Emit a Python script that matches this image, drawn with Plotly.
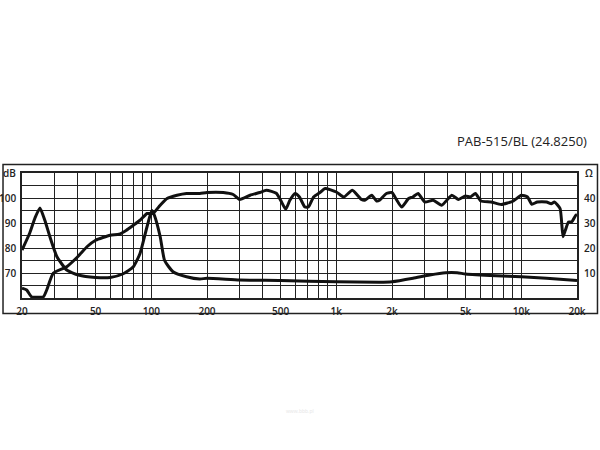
import plotly.graph_objects as go

# Frequency response (dB)
resp_freq = [20, 21.2, 22.5, 26.1, 27.2, 29.5, 34.9, 40, 44.9, 50, 60, 67, 73, 80, 86.9, 94.8, 102,
             111.7, 121.6, 137.7, 155, 183, 200, 245, 277, 300, 342, 386, 419, 474, 500, 533, 561,
             599, 632, 676, 707, 754, 822, 870, 1000, 1098, 1220, 1367, 1425, 1554, 1650, 1712,
             1865, 2000, 2075, 2257, 2457, 2592, 2766, 3011, 3340, 3710, 4212, 4578, 4985, 5300,
             5650, 6050, 6860, 7800, 9060, 10000, 10800, 11400, 12200, 13700, 14500, 15100, 16200,
             16800, 17300, 18000, 18700, 19700, 20000]
resp_db = [63.9, 63.2, 60.5, 60.5, 63.2, 69.9, 72.5, 76.5, 80.5, 83.1, 85.1, 85.5, 87, 89.1, 91.1,
           93.8, 93.8, 97.1, 99.8, 101.1, 101.8, 101.8, 102.2, 102.2, 101.4, 99.4, 101.1, 102.2,
           103.1, 101.9, 99.1, 95.5, 99.1, 101.8, 100.4, 96.4, 96.4, 100.4, 102.4, 103.8, 102.4,
           100.4, 103.1, 99.4, 99.1, 101.1, 98.8, 99.1, 101.8, 102.2, 100.4, 96.4, 99.8, 100.4,
           101.8, 98.4, 99.1, 97.1, 101.1, 99.4, 100.8, 100.4, 101.8, 98.8, 98.4, 97.4, 98.8,
           101.1, 100.4, 97.5, 98.4, 98.4, 97.7, 98.4, 95.8, 84.5, 87.1, 90.4, 90.4, 93.1, 93.4]

# Impedance (Ohm)
imp_freq = [20, 22, 23.5, 25, 26.6, 28.3, 30.9, 34.9, 40.3, 50, 60, 70, 80, 86.9, 94.8, 100.6, 104,
            111.7, 118, 131, 155, 183, 200, 300, 500, 1000, 1700, 2000, 2600, 3200, 3900, 4500,
            5000, 7300, 10000, 13700, 20000]
imp_ohm = [19.2, 25.9, 32, 36, 31, 24.5, 16.5, 11.2, 9.2, 8.2, 8.2, 9.6, 12.5, 17.8, 28.5, 35, 33,
           24.5, 15, 10.5, 8.5, 7.6, 7.9, 7.2, 7.0, 6.5, 6.3, 6.5, 7.9, 9.2, 10.1, 10.1, 9.6, 8.9,
           8.5, 7.9, 7.0]

x_grid = [20, 30, 40, 50, 60, 70, 80, 90, 100, 200, 300, 400, 500, 600, 700, 800, 900, 1000,
          2000, 3000, 4000, 5000, 6000, 7000, 8000, 9000, 10000, 20000]
x_labels = {20: "20", 50: "50", 100: "100", 200: "200", 500: "500", 1000: "1k", 2000: "2k",
            5000: "5k", 10000: "10k", 20000: "20k"}
db_grid = [60, 65, 70, 75, 80, 85, 90, 95, 100, 105, 110]
db_labels = {70: "70", 80: "80", 90: "90", 100: "100"}
ohm_grid = [0, 5, 10, 15, 20, 25, 30, 35, 40, 45, 50]
ohm_labels = {10: "10", 20: "20", 30: "30", 40: "40"}

title = "PAB-515/BL (24.8250)"

tick_font = dict(family="Open Sans", size=10, color="#222", weight=600)

fig = go.Figure()
fig.add_trace(go.Scatter(x=imp_freq, y=imp_ohm, yaxis="y2", mode="lines",
                         line=dict(color="#111", width=3, shape="spline", smoothing=0.5),
                         showlegend=False))
fig.add_trace(go.Scatter(x=resp_freq, y=resp_db, mode="lines",
                         line=dict(color="#111", width=3, shape="spline", smoothing=0.5),
                         showlegend=False))

frame = dict(type="rect", xref="paper", yref="paper",
             x0=-0.0342, x1=1.0369, y0=-0.124, y1=1.068,
             fillcolor="rgba(0,0,0,0)", line=dict(color="#222", width=1.5),
             layer="above")

fig.update_layout(
    width=600, height=450,
    margin=dict(l=22, r=23, t=173, b=152),
    paper_bgcolor="white", plot_bgcolor="white",
    xaxis=dict(type="log", range=[1.30103, 4.30103], tickvals=x_grid,
               ticktext=[x_labels.get(v, "") for v in x_grid],
               showgrid=True, gridcolor="#222", gridwidth=1,
               showline=True, linecolor="#222", linewidth=1.5, mirror=True,
               ticks="", tickfont=tick_font, ticklabelstandoff=3, zeroline=False,
               automargin=False),
    yaxis=dict(range=[60, 110], tickvals=db_grid,
               ticktext=[db_labels.get(v, "") for v in db_grid],
               showgrid=True, gridcolor="#222", gridwidth=1,
               showline=True, linecolor="#222", linewidth=1.5, mirror=True,
               ticks="", tickfont=tick_font, ticklabelstandoff=2, zeroline=False,
               automargin=False),
    yaxis2=dict(range=[0, 50], overlaying="y", side="right", tickvals=ohm_grid,
                ticktext=[ohm_labels.get(v, "") for v in ohm_grid],
                showgrid=False, ticks="", tickfont=tick_font, ticklabelstandoff=6,
                zeroline=False, automargin=False),
    annotations=[
        dict(text=title, xref="paper", yref="paper", x=1.0215, y=1.26,
             xanchor="right", yanchor="middle", showarrow=False,
             font=dict(family="Open Sans", size=13, color="#222")),
        dict(text="dB", xref="paper", yref="paper", x=-0.0225, y=1.0, xanchor="center",
             yanchor="middle", showarrow=False, font=tick_font),
        dict(text="Ω", xref="paper", yref="paper", x=1.0225, y=1.0, xanchor="center",
             yanchor="middle", showarrow=False, font=tick_font),
        dict(text="www.bbb.pl", xref="paper", yref="paper", x=0.5, y=-0.9,
             xanchor="center", yanchor="middle", showarrow=False,
             font=dict(family="Open Sans", size=5, color="#e6e6e6")),
    ],
)
fig.add_shape(**frame)

fig.write_html("out.html", config={"displayModeBar": False},
               post_script="document.body.style.margin='0';")
